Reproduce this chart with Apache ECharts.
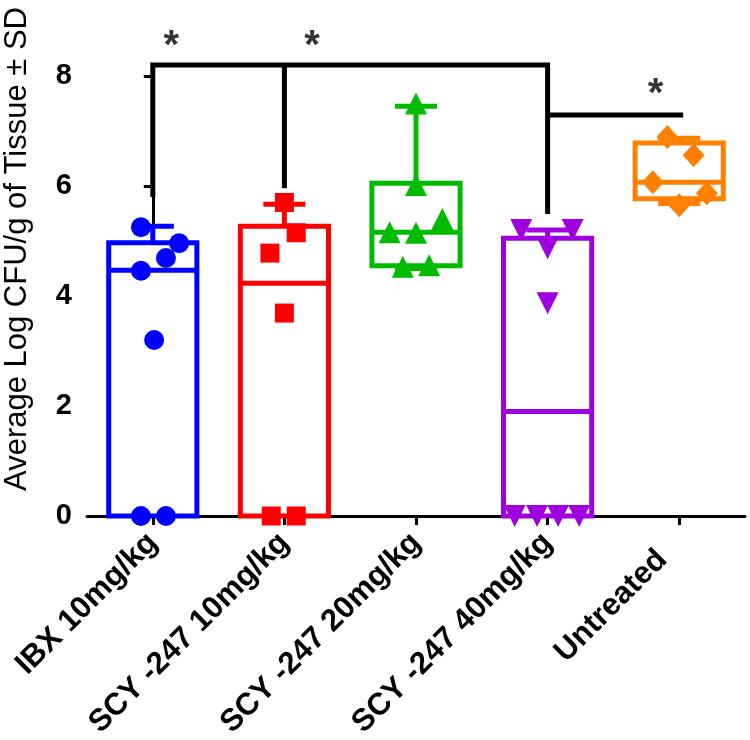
<!DOCTYPE html>
<html>
<head>
<meta charset="utf-8">
<script src="https://cdn.jsdelivr.net/npm/echarts@6/dist/echarts.min.js"></script>
<style>html,body{margin:0;padding:0;background:#fff;}#c{width:750px;height:740px;}</style>
</head>
<body>
<div id="c"></div>
<script>
// ---- data ----
const categories = ['IBX 10mg/kg', 'SCY -247 10mg/kg', 'SCY -247 20mg/kg', 'SCY -247 40mg/kg', 'Untreated'];
const yTicks = [0, 2, 4, 6, 8];
const boxMin    = [0,    0,    4.50, 0,    5.68];
const boxQ1     = [0,    0,    4.55, 0,    5.77];
const boxMedian = [4.47, 4.23, 5.16, 1.90, 6.07];
const boxQ3     = [4.97, 5.27, 6.05, 5.05, 6.78];
const boxMax    = [5.27, 5.67, 7.45, 5.20, 6.87];

const ibxValues   = [5.25, 4.96, 4.69, 4.46, 3.20, 0, 0];
const ibxJitter   = [-0.09, 0.20, 0.10, -0.09, 0.01, -0.09, 0.10];
const scy10Values = [5.70, 5.15, 4.78, 3.69, 0, 0];
const scy10Jitter = [0, 0.09, -0.11, 0, -0.10, 0.09];
const scy20Values = [7.50, 6.02, 5.40, 5.16, 5.15, 4.53, 4.56];
const scy20Jitter = [0, 0, 0.20, -0.20, 0, -0.10, 0.10];
const scy40Values = [5.20, 4.87, 5.20, 3.87, 0, 0, 0, 0];
const scy40Jitter = [-0.20, 0, 0.19, 0, -0.25, -0.08, 0.08, 0.24];
const untrValues  = [6.89, 6.56, 6.07, 5.87, 5.65];
const untrJitter  = [-0.09, 0.11, -0.20, 0.21, 0];

const sigBracketMain = [[0, 5.80], [0, 8.20], [3, 8.20], [3, 5.49]];
const sigBracketMid  = [[1, 8.20], [1, 5.96]];
const sigBracketSide = [[3, 7.29], [4.03, 7.29]];
const sigStars = [[0.14, 8.52], [1.21, 8.52], [3.82, 7.65]];

// ---- styles ----
const colors = ['#0000ff', '#ff0000', '#00bb00', '#a000e0', '#ff8000'];
const FONT = 'Liberation Sans, Arial, sans-serif';
const labelFont = {color: '#000', fontFamily: FONT, fontWeight: 'bold', fontSize: 31};

const chart = echarts.init(document.getElementById('c'), null, {renderer: 'canvas'});

function pts(vals, jit, idx) {
  return vals.map((v, k) => [idx + jit[k], v]);
}

const boxData = categories.map((c, i) => [i, boxMin[i], boxQ1[i], boxMedian[i], boxQ3[i], boxMax[i]]);

function renderBox(params, api) {
  const i = api.value(0);
  const step = api.size([1, 0])[0];
  const hw = step * 0.335;
  const cw = step * 0.16;
  const col = colors[params.dataIndex];
  const x = api.coord([i, 0])[0];
  const yMin = api.coord([i, api.value(1)])[1];
  const yQ1 = api.coord([i, api.value(2)])[1];
  const yMed = api.coord([i, api.value(3)])[1];
  const yQ3 = api.coord([i, api.value(4)])[1];
  const yMax = api.coord([i, api.value(5)])[1];
  const st = {stroke: col, lineWidth: 5, fill: null};
  const children = [
    {type: 'line', shape: {x1: x, y1: yQ3, x2: x, y2: yMax}, style: st},
    {type: 'line', shape: {x1: x - cw, y1: yMax, x2: x + cw, y2: yMax}, style: st},
    {type: 'line', shape: {x1: x, y1: yQ1, x2: x, y2: yMin}, style: st},
    {type: 'line', shape: {x1: x - cw, y1: yMin, x2: x + cw, y2: yMin}, style: st, invisible: yMin === yQ1},
    {type: 'rect', shape: {x: x - hw, y: yQ3, width: hw * 2, height: yQ1 - yQ3}, style: {stroke: col, lineWidth: 5, fill: '#fff'}},
    {type: 'line', shape: {x1: x - hw, y1: yMed, x2: x + hw, y2: yMed}, style: st}
  ];
  return {type: 'group', children: children};
}

function scatterSeries(data, color, symbol, size, rotate) {
  return {
    type: 'scatter', xAxisIndex: 1, data: data, symbol: symbol, symbolSize: size,
    symbolRotate: rotate || 0, itemStyle: {color: color, opacity: 1}, z: 5, silent: true, clip: false
  };
}

function bracket(data) {
  return {
    type: 'line', xAxisIndex: 1, data: data, symbol: 'none', clip: false, z: 4, silent: true,
    lineStyle: {color: '#000', width: 5, cap: 'butt', join: 'miter'}
  };
}

const option = {
  backgroundColor: '#fff',
  animation: false,
  grid: {left: 87, top: 76, width: 658, height: 440, containLabel: false, outerBoundsMode: 'none'},
  xAxis: [
    {
      type: 'category', data: categories, boundaryGap: true,
      axisLine: {show: true, lineStyle: {color: '#000', width: 3}},
      axisTick: {show: true, alignWithLabel: true, length: 9, lineStyle: {color: '#000', width: 3}},
      axisLabel: Object.assign({
        rotate: 45, margin: 22, interval: 0,
        formatter: (v, i) => (i === categories.length - 1 ? '{last|' + v + '}' : v),
        rich: {last: Object.assign({padding: [0, 24, 0, 0]}, labelFont)}
      }, labelFont),
      splitLine: {show: false}
    },
    {
      type: 'value', min: -0.5, max: 4.5, show: false
    }
  ],
  yAxis: {
    type: 'value', min: 0, max: 8, interval: 2,
    name: 'Average Log CFU/g of Tissue \u00B1 SD',
    nameLocation: 'middle', nameGap: 54, nameRotate: 90,
    nameTextStyle: {color: '#000', fontFamily: FONT, fontSize: 31, padding: [0, 0, 0, 94]},
    axisLine: {show: true, lineStyle: {color: '#000', width: 3}},
    axisTick: {show: true, length: 9, lineStyle: {color: '#000', width: 3}},
    axisLabel: {margin: 15, color: '#000', fontFamily: FONT, fontWeight: 'bold', fontSize: 29,
      formatter: v => (yTicks.indexOf(v) >= 0 ? String(v) : '')},
    splitLine: {show: false}
  },
  series: [
    {type: 'custom', xAxisIndex: 1, renderItem: renderBox, data: boxData, z: 3, silent: true, clip: false,
      encode: {x: 0, y: [1, 2, 3, 4, 5]}},
    scatterSeries(pts(ibxValues, ibxJitter, 0), colors[0], 'circle', 20),
    scatterSeries(pts(scy10Values, scy10Jitter, 1), colors[1], 'rect', 19),
    scatterSeries(pts(scy20Values, scy20Jitter, 2), colors[2], 'triangle', 22),
    scatterSeries(pts(scy40Values, scy40Jitter, 3), colors[3], 'triangle', 22, 180),
    scatterSeries(pts(untrValues, untrJitter, 4), colors[4], 'diamond', [22, 24]),
    bracket(sigBracketMain),
    bracket(sigBracketMid),
    bracket(sigBracketSide),
    {
      type: 'scatter', xAxisIndex: 1, data: sigStars, symbolSize: 1, itemStyle: {color: 'transparent'},
      clip: false, silent: true, z: 6,
      label: {show: true, position: 'inside', formatter: '*', color: '#000', fontFamily: FONT, fontWeight: 'bold', fontSize: 40}
    }
  ]
};
chart.setOption(option);
</script>
</body>
</html>
